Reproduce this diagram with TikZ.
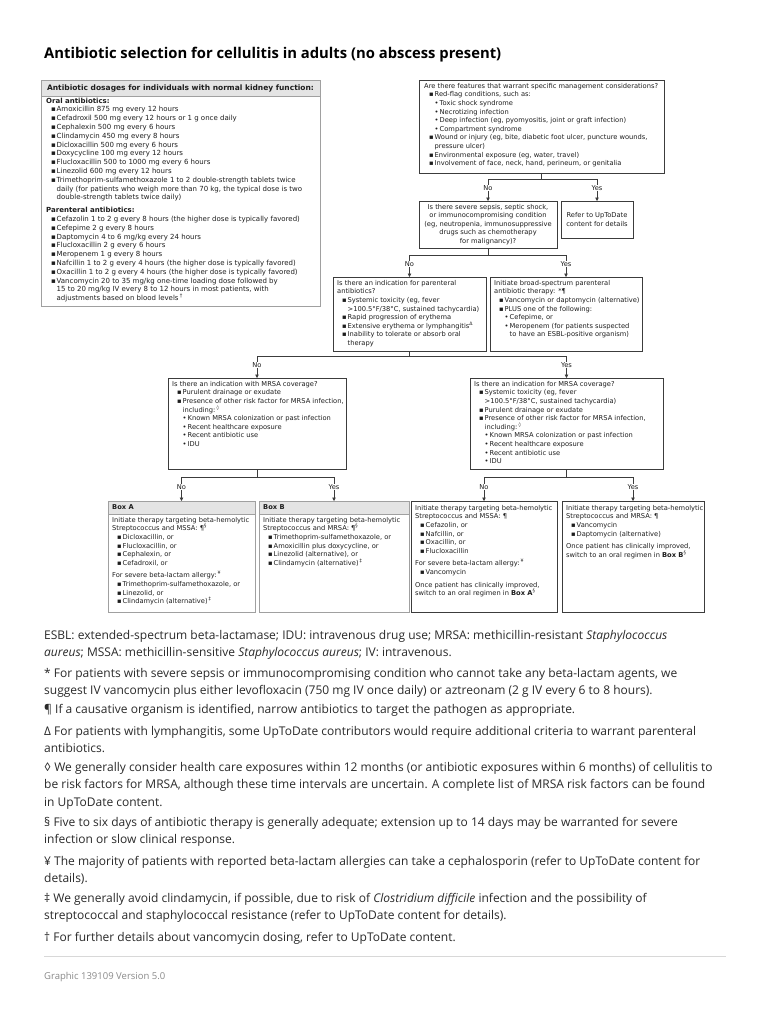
\documentclass[tikz,border=0pt]{standalone}
\usepackage{fontspec}
\setmainfont{Open Sans}
\newfontfamily\dgfont{DejaVu Sans}
\usetikzlibrary{arrows.meta}
\definecolor{tc}{HTML}{1E1E1E}
\definecolor{fc}{HTML}{2A2A2A}
\definecolor{bd}{HTML}{3C3C3C}
\definecolor{lbd}{HTML}{A0A0A0}
\definecolor{hbg}{HTML}{E4E4E4}
\definecolor{lc}{HTML}{3C3C3C}
\definecolor{gfxc}{HTML}{8A8A8A}
\definecolor{rulec}{HTML}{D8D8D8}
\newcommand\dg{\dgfont\fontsize{6.7}{8.6}\selectfont}
\newcommand\dgl{\dgfont\fontsize{7.0}{8.8}\selectfont}
\newcommand\fnf{\fontsize{12}{17.5}\selectfont}
\newcommand\bula{\hspace*{5pt}\makebox[5.5pt][l]{▪}}
\newcommand\bulac{\hspace*{10.5pt}}
\newcommand\bulb{\hspace*{10.5pt}\makebox[5pt][l]{•}}
\newcommand\bulbc{\hspace*{15.5pt}}
\newcommand\mybox[6][box]{\node[#1, minimum width=#5pt, minimum height=#6pt] (#2) at (#3,#4) {};}
\tikzset{
 box/.style={draw=bd, line width=0.6pt, inner sep=0pt, outer sep=0pt, anchor=north west, fill=white},
 lbox/.style={box, draw=lbd},
 hband/.style={box, draw=lbd, fill=hbg},
 tx/.style={anchor=north west, inner sep=0pt, align=left, text=tc, font=\dg},
 ctx/.style={inner sep=0pt, align=center, text=tc, font=\dg},
 lab/.style={fill=white, inner sep=0.9pt, text=tc, font=\dg},
 ln/.style={draw=lc, line width=0.6pt},
 arr/.style={ln, -{Triangle[length=3.4pt,width=3.4pt]}},
 fn/.style={anchor=base west, inner sep=0pt, align=left, text=fc, font=\fnf},
}
\begin{document}
\begin{tikzpicture}[x=1pt,y=-1pt]
\useasboundingbox (0,0) rectangle (768,1024);
\fill[white] (0,0) rectangle (768,1024);

% title
\node[anchor=base west, inner sep=0pt, font=\fontsize{14.8}{17}\selectfont\bfseries] (title) at (44,59) {Antibiotic selection for cellulitis in adults (no abscess present)};

% ---------------- left dosage box
\mybox[lbox]{dose}{41}{80}{279}{226}
\mybox[hband]{doseh}{41}{80}{279}{16}
\node[ctx, font=\dgfont\fontsize{7.5}{9}\selectfont\bfseries] (dosehtx) at (doseh.center) {Antibiotic dosages for individuals with normal kidney function:};
\node[tx, font=\dgl] (dosetx) at (46,97.5) {%
\textbf{Oral antibiotics:}\\
\bula Amoxicillin 875 mg every 12 hours\\
\bula Cefadroxil 500 mg every 12 hours or 1 g once daily\\
\bula Cephalexin 500 mg every 6 hours\\
\bula Clindamycin 450 mg every 8 hours\\
\bula Dicloxacillin 500 mg every 6 hours\\
\bula Doxycycline 100 mg every 12 hours\\
\bula Flucloxacillin 500 to 1000 mg every 6 hours\\
\bula Linezolid 600 mg every 12 hours\\
\bula Trimethoprim-sulfamethoxazole 1 to 2 double-strength tablets twice\\
\bulac daily (for patients who weigh more than 70 kg, the typical dose is two\\
\bulac double-strength tablets twice daily)\\[4pt]
\textbf{Parenteral antibiotics:}\\
\bula Cefazolin 1 to 2 g every 8 hours (the higher dose is typically favored)\\
\bula Cefepime 2 g every 8 hours\\
\bula Daptomycin 4 to 6 mg/kg every 24 hours\\
\bula Flucloxacillin 2 g every 6 hours\\
\bula Meropenem 1 g every 8 hours\\
\bula Nafcillin 1 to 2 g every 4 hours (the higher dose is typically favored)\\
\bula Oxacillin 1 to 2 g every 4 hours (the higher dose is typically favored)\\
\bula Vancomycin 20 to 35 mg/kg one-time loading dose followed by\\
\bulac 15 to 20 mg/kg IV every 8 to 12 hours in most patients, with\\
\bulac adjustments based on blood levels\,\textsuperscript{†}};

% ---------------- flowchart boxes
\mybox{feat}{419}{80}{245}{93}
\node[tx] (feattx) at (424,83) {%
Are there features that warrant specific management considerations?\\
\bula Red-flag conditions, such as:\\
\bulb Toxic shock syndrome\\
\bulb Necrotizing infection\\
\bulb Deep infection (eg, pyomyositis, joint or graft infection)\\
\bulb Compartment syndrome\\
\bula Wound or injury (eg, bite, diabetic foot ulcer, puncture wounds,\\
\bulac pressure ulcer)\\
\bula Environmental exposure (eg, water, travel)\\
\bula Involvement of face, neck, hand, perineum, or genitalia};

\mybox{sep}{419}{201}{138}{47}
\node[ctx] (septx) at (sep.center) {Is there severe sepsis, septic shock,\\or immunocompromising condition\\(eg, neutropenia, immunosuppressive\\drugs such as chemotherapy\\for malignancy)?};

\mybox{refer}{561}{201}{72}{37}
\node[ctx] (refertx) at (refer.center) {Refer to UpToDate\\content for details};

\mybox{par}{333}{277}{153}{74}
\node[tx] (partx) at (337,280) {%
Is there an indication for parenteral\\
antibiotics?\\
\bula Systemic toxicity (eg, fever\\
\bulac >100.5°F/38°C, sustained tachycardia)\\
\bula Rapid progression of erythema\\
\bula Extensive erythema or lymphangitis\textsuperscript{Δ}\\
\bula Inability to tolerate or absorb oral\\
\bulac therapy};

\mybox{broad}{490}{277}{152}{74}
\node[tx] (broadtx) at (494,280) {%
Initiate broad-spectrum parenteral\\
antibiotic therapy: *¶\\
\bula Vancomycin or daptomycin (alternative)\\
\bula PLUS one of the following:\\
\bulb Cefepime, or\\
\bulb Meropenem (for patients suspected\\
\bulbc to have an ESBL-positive organism)};

\mybox{mrsal}{168}{378}{178}{91}
\node[tx] (mrsaltx) at (172,381) {%
Is there an indication with MRSA coverage?\\
\bula Purulent drainage or exudate\\
\bula Presence of other risk factor for MRSA infection,\\
\bulac including:\,\textsuperscript{◊}\\
\bulb Known MRSA colonization or past infection\\
\bulb Recent healthcare exposure\\
\bulb Recent antibiotic use\\
\bulb IDU};

\mybox{mrsar}{470}{378}{193}{91}
\node[tx] (mrsartx) at (474,381) {%
Is there an indication for MRSA coverage?\\
\bula Systemic toxicity (eg, fever\\
\bulac >100.5°F/38°C, sustained tachycardia)\\
\bula Purulent drainage or exudate\\
\bula Presence of other risk factor for MRSA infection,\\
\bulac including:\,\textsuperscript{◊}\\
\bulb Known MRSA colonization or past infection\\
\bulb Recent healthcare exposure\\
\bulb Recent antibiotic use\\
\bulb IDU};

% bottom row
\mybox[lbox]{boxa}{108}{501}{147}{111}
\mybox[hband]{boxah}{108}{501}{147}{13}
\node[tx, anchor=west, font=\dg\bfseries] (boxahtx) at (112,507.5) {Box A};
\node[tx] (boxatx) at (112,517) {%
Initiate therapy targeting beta-hemolytic\\
Streptococcus and MSSA: ¶\textsuperscript{§}\\
\bula Dicloxacillin, or\\
\bula Flucloxacillin, or\\
\bula Cephalexin, or\\
\bula Cefadroxil, or\\[4pt]
For severe beta-lactam allergy:\,\textsuperscript{¥}\\
\bula Trimethoprim-sulfamethoxazole, or\\
\bula Linezolid, or\\
\bula Clindamycin (alternative)\,\textsuperscript{‡}};

\mybox[lbox]{boxb}{259}{501}{150}{111}
\mybox[hband]{boxbh}{259}{501}{150}{13}
\node[tx, anchor=west, font=\dg\bfseries] (boxbhtx) at (263,507.5) {Box B};
\node[tx] (boxbtx) at (263,517) {%
Initiate therapy targeting beta-hemolytic\\
Streptococcus and MRSA: ¶\textsuperscript{§}\\
\bula Trimethoprim-sulfamethoxazole, or\\
\bula Amoxicillin plus doxycycline, or\\
\bula Linezolid (alternative), or\\
\bula Clindamycin (alternative)\,\textsuperscript{‡}};

\mybox{boxc}{411}{501}{146}{111}
\node[tx] (boxctx) at (415,505) {%
Initiate therapy targeting beta-hemolytic\\
Streptococcus and MSSA: ¶\\
\bula Cefazolin, or\\
\bula Nafcillin, or\\
\bula Oxacillin, or\\
\bula Flucloxacillin\\[4pt]
For severe beta-lactam allergy:\,\textsuperscript{¥}\\
\bula Vancomycin\\[4pt]
Once patient has clinically improved,\\
switch to an oral regimen in \textbf{Box A}\textsuperscript{§}};

\mybox{boxd}{562}{501}{142}{111}
\node[tx] (boxdtx) at (566,505) {%
Initiate therapy targeting beta-hemolytic\\
Streptococcus and MRSA: ¶\\
\bula Vancomycin\\
\bula Daptomycin (alternative)\\[4pt]
Once patient has clinically improved,\\
switch to an oral regimen in \textbf{Box B}\textsuperscript{§}};

% ---------------- connectors
% row 1
\draw[ln] (feat.south) -- (feat.south |- 0,179) coordinate (j1);
\draw[arr] (j1) -| (sep.north);
\draw[arr] (j1) -| (refer.north);
\node[lab] (no1) at (sep.north |- 0,188) {No};
\node[lab] (yes1) at (refer.north |- 0,188) {Yes};
% row 2
\draw[ln] (sep.south) -- (sep.south |- 0,255) coordinate (j2);
\draw[arr] (j2) -| (par.north);
\draw[arr] (j2) -| (broad.north);
\node[lab] (no2) at (par.north |- 0,264) {No};
\node[lab] (yes2) at (broad.north |- 0,264) {Yes};
% row 3
\draw[ln] (par.south) -- (par.south |- 0,356) coordinate (j3);
\draw[arr] (j3) -| (mrsal.north);
\draw[arr] (j3) -| (mrsar.north);
\node[lab] (no3) at (mrsal.north |- 0,365) {No};
\node[lab] (yes3) at (mrsar.north |- 0,365) {Yes};
% row 4 left
\draw[ln] (mrsal.south) -- (mrsal.south |- 0,477) coordinate (j4);
\draw[arr] (j4) -| (boxa.north);
\draw[arr] (j4) -| (boxb.north);
\node[lab] (no4) at (boxa.north |- 0,487) {No};
\node[lab] (yes4) at (boxb.north |- 0,487) {Yes};
% row 4 right
\draw[ln] (mrsar.south) -- (mrsar.south |- 0,477) coordinate (j5);
\draw[arr] (j5) -| (boxc.north);
\draw[arr] (j5) -| (boxd.north);
\node[lab] (no5) at (boxc.north |- 0,487) {No};
\node[lab] (yes5) at (boxd.north |- 0,487) {Yes};

% ---------------- footnotes (anchored at the baseline of their last line)
\node[fn] (f1) at (44,656.5) {ESBL: extended-spectrum beta-lactamase; IDU: intravenous drug use; MRSA: methicillin-resistant \textit{Staphylococcus}\\\textit{aureus}; MSSA: methicillin-sensitive \textit{Staphylococcus aureus}; IV: intravenous.};
\node[fn] (f2) at (44,694.5) {* For patients with severe sepsis or immunocompromising condition who cannot take any beta-lactam agents, we\\suggest IV vancomycin plus either levofloxacin (750 mg IV once daily) or aztreonam (2 g IV every 6 to 8 hours).};
\node[fn] (f3) at (44,713) {¶ If a causative organism is identified, narrow antibiotics to target the pathogen as appropriate.};
\node[fn] (f4) at (44,752.5) {Δ For patients with lymphangitis, some UpToDate contributors would require additional criteria to warrant parenteral\\antibiotics.};
\node[fn] (f5) at (44,806) {◊ We generally consider health care exposures within 12 months (or antibiotic exposures within 6 months) of cellulitis to\\be risk factors for MRSA, although these time intervals are uncertain. A complete list of MRSA risk factors can be found\\in UpToDate content.};
\node[fn] (f6) at (44,843.5) {§ Five to six days of antibiotic therapy is generally adequate; extension up to 14 days may be warranted for severe\\infection or slow clinical response.};
\node[fn] (f7) at (44,882.5) {¥ The majority of patients with reported beta-lactam allergies can take a cephalosporin (refer to UpToDate content for\\details).};
\node[fn] (f8) at (44,919.5) {‡ We generally avoid clindamycin, if possible, due to risk of \textit{Clostridium difficile} infection and the possibility of\\streptococcal and staphylococcal resistance (refer to UpToDate content for details).};
\node[fn] (f9) at (44,941) {† For further details about vancomycin dosing, refer to UpToDate content.};
\draw[draw=rulec, line width=0.8pt] (44,956) -- (726,956);
\node[fn, text=gfxc, font=\fontsize{9.5}{12}\selectfont] (gfx) at (44,979) {Graphic 139109 Version 5.0};
\end{tikzpicture}
\end{document}
